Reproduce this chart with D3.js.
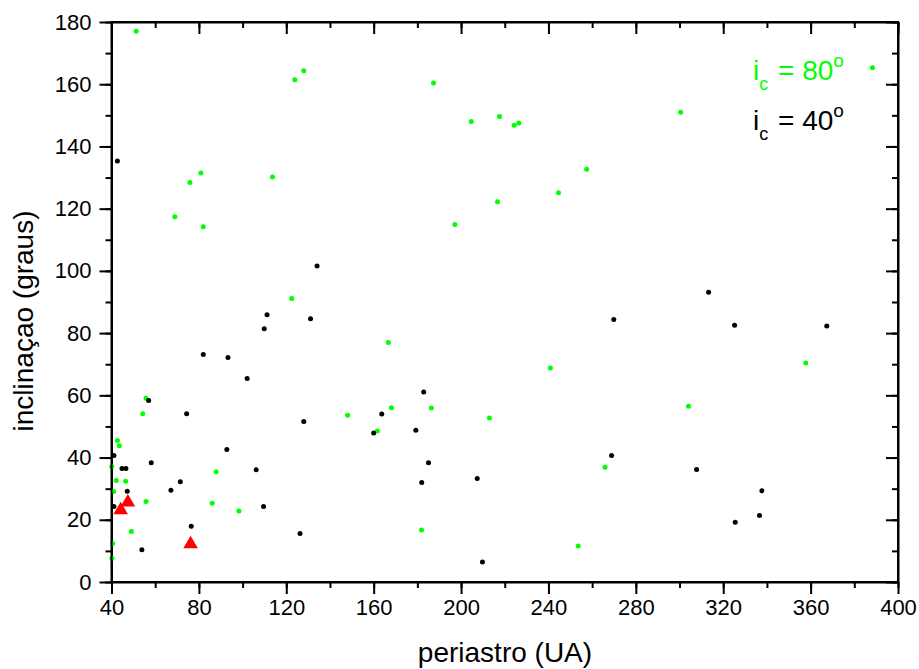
<!DOCTYPE html>
<html lang="pt">
<head>
<meta charset="utf-8">
<title>periastro vs inclinacao</title>
<script src="https://cdn.jsdelivr.net/npm/d3@7"></script>
<style>
  body { margin: 0; background: #fff; }
  svg text { font-family: Arial, "Liberation Sans", sans-serif; }
  .axis path, .axis line { stroke: #000; stroke-width: 2px; }
  .axis text { font-size: 22px; fill: #000; }
</style>
</head>
<body>
<script>
// data: [periastro (UA), inclinacao (graus)]
var pontos80 = [
  [51.3,177.0],[123.9,161.4],[128.0,164.3],[80.9,131.5],[75.9,128.4],[113.7,130.2],
  [187.4,160.4],[204.7,148.0],[217.6,149.6],[224.3,146.8],[226.4,147.5],[257.5,132.7],
  [244.6,125.1],[216.7,122.2],[388.3,165.3],[300.5,151.0],[69.0,117.4],[82.0,114.2],
  [122.5,91.1],[55.8,59.1],[197.2,114.9],[166.7,77.0],[240.9,68.8],[357.8,70.4],
  [54.3,54.1],[148.1,53.6],[42.7,45.5],[43.6,43.8],[87.9,35.4],[42.2,32.6],
  [46.5,32.4],[41.0,29.1],[40.1,37.1],[55.8,25.9],[86.1,25.3],[98.3,22.8],
  [49.1,16.2],[40.5,12.4],[40.2,7.6],[168.1,56.0],[186.4,55.9],[213.0,52.7],
  [161.7,48.5],[265.9,36.9],[181.9,16.7],[253.6,11.6],[304.1,56.5]
];
var pontos40 = [
  [42.7,135.3],[134.1,101.6],[111.2,85.9],[131.1,84.6],[109.9,81.4],[82.0,73.1],
  [93.3,72.2],[102.1,65.4],[57.0,58.3],[182.9,61.1],[269.9,84.4],[313.3,93.1],
  [325.2,82.5],[367.4,82.3],[74.4,54.1],[128.0,51.6],[92.8,42.6],[41.1,40.7],
  [58.2,38.3],[44.8,36.5],[46.6,36.5],[106.2,36.1],[71.5,32.2],[67.2,29.5],
  [47.2,29.2],[41.1,24.3],[109.6,24.3],[76.5,17.9],[126.3,15.6],[53.9,10.4],
  [163.7,54.0],[160.0,47.9],[179.3,48.8],[185.1,38.3],[182.0,32.0],[207.4,33.3],
  [268.9,40.7],[209.8,6.4],[307.8,36.2],[337.7,29.3],[336.6,21.4],[325.5,19.2]
];
var pontosObs = [[47.5,25.6],[44.2,23.1],[76.2,12.2]];

var xTicks = [40, 80, 120, 160, 200, 240, 280, 320, 360, 400];
var yTicks = [0, 20, 40, 60, 80, 100, 120, 140, 160, 180];

var W = 919, H = 669;
var mLeft = 111.5, mRight = 898, mTop = 22, mBottom = 582;

var svg = d3.select("body").append("svg")
  .attr("width", W).attr("height", H);

var x = d3.scaleLinear().domain([40, 400]).range([mLeft, mRight]);
var y = d3.scaleLinear().domain([0, 180]).range([mBottom, mTop]);

var xMinor = d3.range(40, 401, 20);
var yMinor = d3.range(0, 181, 10);

// minor ticks -------------------------------------------------
svg.append("g").attr("class", "axis")
  .attr("transform", "translate(0," + mBottom + ")")
  .call(d3.axisBottom(x).tickValues(xMinor).tickSize(6).tickFormat(""))
  .call(g => g.select(".domain").remove());
svg.append("g").attr("class", "axis")
  .attr("transform", "translate(0," + mTop + ")")
  .call(d3.axisTop(x).tickValues(xMinor).tickSize(-6).tickFormat(""))
  .call(g => g.select(".domain").remove());
svg.append("g").attr("class", "axis")
  .attr("transform", "translate(" + mLeft + ",0)")
  .call(d3.axisLeft(y).tickValues(yMinor).tickSize(6).tickFormat(""))
  .call(g => g.select(".domain").remove());
svg.append("g").attr("class", "axis")
  .attr("transform", "translate(" + mRight + ",0)")
  .call(d3.axisRight(y).tickValues(yMinor).tickSize(-6).tickFormat(""))
  .call(g => g.select(".domain").remove());

// major ticks -------------------------------------------------
svg.append("g").attr("class", "axis")
  .attr("transform", "translate(0," + mBottom + ")")
  .call(d3.axisBottom(x).tickValues(xTicks).tickSize(12).tickSizeOuter(0).tickPadding(5).tickFormat(d3.format("d")));
svg.append("g").attr("class", "axis")
  .attr("transform", "translate(0," + mTop + ")")
  .call(d3.axisTop(x).tickValues(xTicks).tickSize(-12).tickSizeOuter(0).tickFormat(""));
svg.append("g").attr("class", "axis")
  .attr("transform", "translate(" + mLeft + ",0)")
  .call(d3.axisLeft(y).tickValues(yTicks).tickSize(12).tickSizeOuter(0).tickPadding(8).tickFormat(d3.format("d")));
svg.append("g").attr("class", "axis")
  .attr("transform", "translate(" + mRight + ",0)")
  .call(d3.axisRight(y).tickValues(yTicks).tickSize(-12).tickSizeOuter(0).tickFormat(""));

// points ------------------------------------------------------
svg.append("g").selectAll("circle")
  .data(pontos80).join("circle")
  .attr("cx", d => x(d[0])).attr("cy", d => y(d[1]))
  .attr("r", 2.5).attr("fill", "#00ff00");

svg.append("g").selectAll("circle")
  .data(pontos40).join("circle")
  .attr("cx", d => x(d[0])).attr("cy", d => y(d[1]))
  .attr("r", 2.5).attr("fill", "#000");

var tri = d3.symbol().type(d3.symbolTriangle).size(92);
svg.append("g").selectAll("path")
  .data(pontosObs).join("path")
  .attr("transform", d => "translate(" + x(d[0]) + "," + y(d[1]) + ")")
  .attr("d", tri).attr("fill", "#ff0000");

// legend ------------------------------------------------------
function legenda(yb, val, cor) {
  var t = svg.append("text").attr("x", 753).attr("y", yb)
    .attr("fill", cor).style("font-size", "28px");
  t.append("tspan").text("i");
  t.append("tspan").attr("dy", 10).style("font-size", "18px").text("c");
  t.append("tspan").attr("dy", -10).attr("dx", 2).text(" = " + val);
  t.append("tspan").attr("dy", -13).style("font-size", "19px").text("o");
}
legenda(80, 80, "#00ff00");
legenda(130, 40, "#000");

// frame -------------------------------------------------------
svg.append("rect")
  .attr("x", mLeft).attr("y", mTop)
  .attr("width", mRight - mLeft).attr("height", mBottom - mTop)
  .attr("fill", "none").attr("stroke", "#000").attr("stroke-width", 2);

// titles ------------------------------------------------------
svg.append("text")
  .attr("x", 505).attr("y", 662)
  .attr("text-anchor", "middle").style("font-size", "28px")
  .text("periastro (UA)");
svg.append("text")
  .attr("transform", "translate(33,321) rotate(-90)")
  .attr("text-anchor", "middle").style("font-size", "28px")
  .text("inclinaçao (graus)");
</script>
</body>
</html>
